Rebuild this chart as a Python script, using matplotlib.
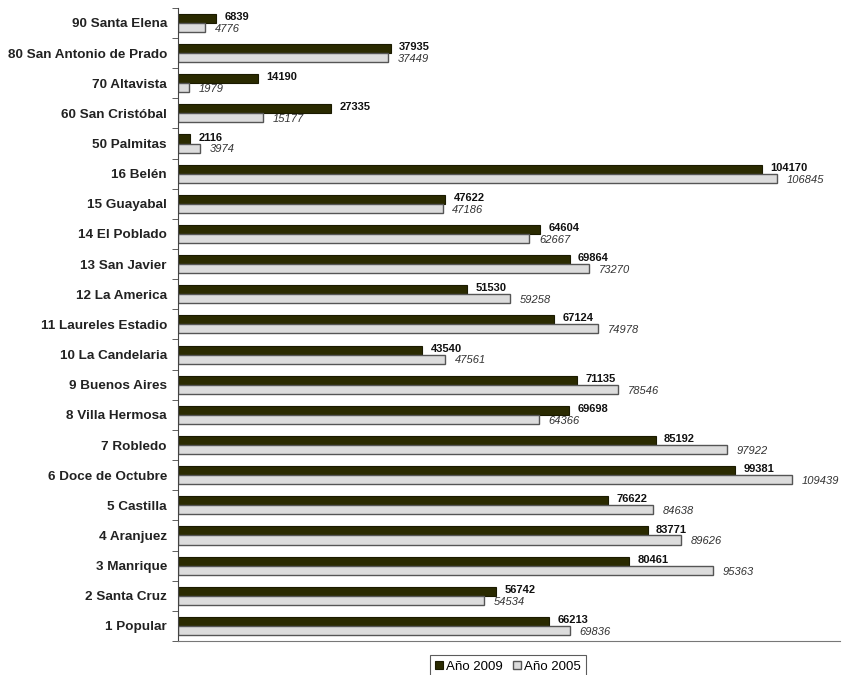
import numpy as np
import matplotlib.pyplot as plt
from matplotlib.ticker import FixedLocator, NullLocator

plt.rcParams['font.family'] = ['Liberation Sans', 'DejaVu Sans']

# comunas / corregimientos, top to bottom as in the chart
comunas = ['90 Santa Elena', '80 San Antonio de Prado', '70 Altavista',
           '60 San Cristóbal', '50 Palmitas', '16 Belén', '15 Guayabal',
           '14 El Poblado', '13 San Javier', '12 La America',
           '11 Laureles Estadio', '10 La Candelaria', '9 Buenos Aires',
           '8 Villa Hermosa', '7 Robledo', '6 Doce de Octubre', '5 Castilla',
           '4 Aranjuez', '3 Manrique', '2 Santa Cruz', '1 Popular']
anio_2009 = [6839, 37935, 14190, 27335, 2116, 104170, 47622, 64604, 69864,
             51530, 67124, 43540, 71135, 69698, 85192, 99381, 76622, 83771,
             80461, 56742, 66213]
anio_2005 = [4776, 37449, 1979, 15177, 3974, 106845, 47186, 62667, 73270,
             59258, 74978, 47561, 78546, 64366, 97922, 109439, 84638, 89626,
             95363, 54534, 69836]

dark = '#2a2a00'
light = '#dcdcdc'
edge = '#555555'

fig = plt.figure(figsize=(8.45, 6.75), dpi=100)
ax = fig.add_axes([0.2107, 0.0504, 0.783, 0.9380])

y = np.arange(len(comunas))
h = 0.3
b1 = ax.barh(y - h / 2, anio_2009, height=h, color=dark, edgecolor='#1a1a00',
             linewidth=0.8, label='Año 2009')
b2 = ax.barh(y + h / 2, anio_2005, height=h, color=light, edgecolor=edge,
             linewidth=1.0, label='Año 2005')

# value labels: 2009 bold just above, 2005 italic just below
for yy, v in zip(y, anio_2009):
    ax.annotate(str(v), (v, yy - h / 2), xytext=(6, 1), textcoords='offset points',
                ha='left', va='center', fontsize=8, fontweight='bold', color='#111111')
for yy, v in zip(y, anio_2005):
    ax.annotate(str(v), (v, yy + h / 2), xytext=(7, -1), textcoords='offset points',
                ha='left', va='center', fontsize=8, fontstyle='italic', color='#333333')

ax.set_ylim(len(comunas) - 0.5, -0.5)
ax.set_xlim(0, 118000)
ax.set_yticks(y)
ax.set_yticklabels(comunas, fontsize=9.7, fontweight='bold', color='#222222')
ax.yaxis.set_minor_locator(FixedLocator(np.arange(-0.5, len(comunas), 1.0)))
ax.tick_params(axis='y', which='major', length=0, pad=8)
ax.tick_params(axis='y', which='minor', length=4, color='#444444')
ax.xaxis.set_major_locator(NullLocator())

ax.spines['top'].set_visible(False)
ax.spines['right'].set_visible(False)
ax.spines['left'].set_color('#444444')
ax.spines['bottom'].set_color('#777777')

leg = fig.legend(handles=[b1, b2], loc='lower center', ncol=2,
                 bbox_to_anchor=(0.601, -0.014), fontsize=9.5, frameon=True,
                 fancybox=False, edgecolor='#333333', handlelength=0.6,
                 handleheight=0.6, handletextpad=0.2, columnspacing=0.8,
                 borderpad=0.4)
leg.get_frame().set_linewidth(0.8)

fig.savefig('out.png', dpi=100)
